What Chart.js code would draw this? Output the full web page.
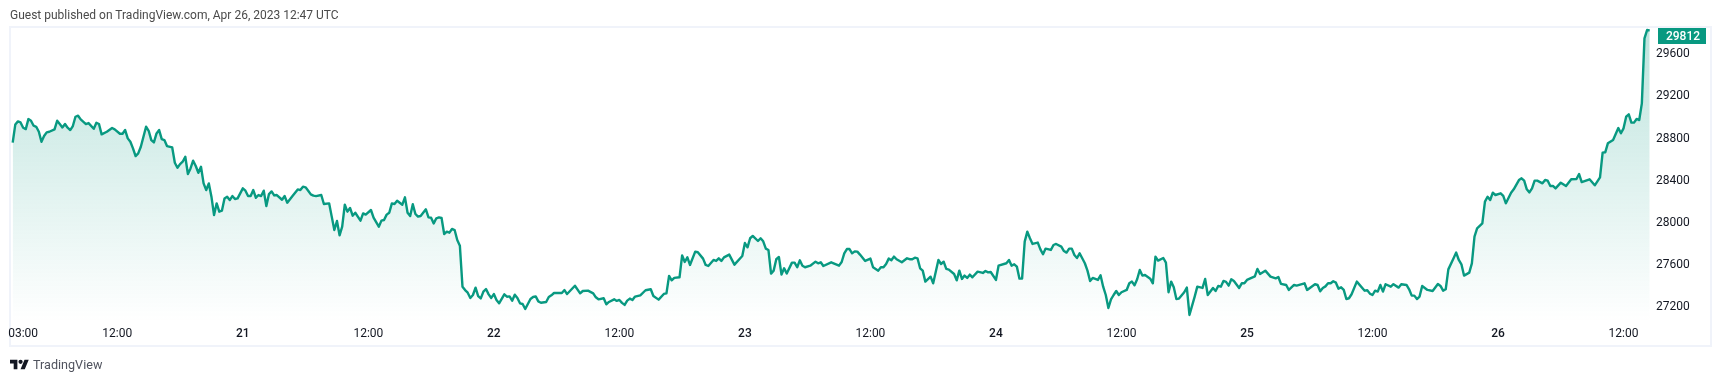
<!DOCTYPE html>
<html>
<head>
<meta charset="utf-8">
<script src="https://cdn.jsdelivr.net/npm/chart.js@4"></script>
<style>
    body { margin: 0; background: #fff; width: 1722px; height: 382px; overflow: hidden; position: relative; font-family: Roboto, sans-serif; }
    #frame { position: absolute; left: 9px; top: 26px; width: 1699px; height: 317px; border: 2px solid #f0f3fa; }
    #chart { position: absolute; left: 0; top: 0; }
    #published { position: absolute; left: 10px; top: 6px; font-size: 12px; line-height: 18px; color: #4a4a4a; white-space: nowrap; }
    #brand { position: absolute; left: 10px; top: 355px; height: 18px; display: flex; align-items: center; gap: 4px; font-size: 12.6px; color: #50535e; }
</style>
</head>
<body>
<div id="frame"></div>
<canvas id="chart" width="1722" height="382"></canvas>
<div id="published">Guest published on TradingView.com, Apr 26, 2023 12:47 UTC</div>
<div id="brand">
    <svg width="19" height="11" viewBox="0 3 36 20"><path fill="#131722" d="M14 22H7V11H0V4h14v18zM28 22h-8l7.5-18h8L28 22z"/><circle fill="#131722" cx="20" cy="8" r="4"/></svg>
    <span>TradingView</span>
</div>
<script>
// 15 minute slots counted from Apr 20 02:00, only the turning points of the line are listed
const slots = [
    0,1,2,3,4,5,6,7,8,9,10,11,12,13,14,16,17,18,19,20,21,22,23,24,25,26,28,29,31,32,33,34,36,38,39,41,42,43,44,45,46,47,48,49,51,52,53,54,55,56,57,58,59,61,62,63,64,65,66,67,68,69,70,71,72,73,74,75,76,77,78,79,80,81,82,83,84,85,86,88,89,90,91,92,93,94,95,96,97,98,99,100,101,103,104,105,107,109,
    110,111,112,113,114,115,116,118,119,121,122,123,124,125,126,127,128,129,130,131,133,134,135,137,138,140,141,142,143,144,145,146,147,149,150,151,152,153,154,155,156,158,159,160,161,162,163,164,165,166,167,168,169,170,171,172,173,174,175,176,177,178,179,180,181,182,183,184,185,186,188,189,190,191,192,193,194,195,196,198,199,200,201,202,204,205,206,207,210,211,212,215,217,
    218,220,222,223,224,226,227,228,230,231,232,233,234,235,236,237,238,240,242,244,245,247,249,250,251,252,253,255,256,257,258,259,261,262,264,265,266,268,269,270,271,272,274,276,279,280,281,282,283,285,286,287,288,289,290,291,292,293,294,295,296,298,299,300,301,302,303,305,307,308,309,310,313,316,317,318,319,320,321,322,323,
    324,326,328,329,331,332,333,334,335,336,337,338,340,342,343,344,345,346,347,348,349,351,352,354,355,356,357,358,360,361,362,363,364,365,366,367,369,371,372,373,374,376,377,380,381,382,383,384,385,386,387,388,389,390,392,393,394,395,397,398,399,401,402,403,404,405,406,407,408,409,410,411,412,413,415,416,417,418,419,420,421,422,423,424,426,427,428,429,430,431,
    432,433,435,436,437,438,440,441,442,443,444,445,446,448,449,450,452,453,455,456,457,459,460,461,462,463,464,465,466,467,469,470,471,472,475,476,477,479,481,483,484,485,487,488,490,491,494,495,498,499,500,501,502,503,504,505,506,507,508,509,510,511,512,514,517,518,519,520,521,522,523,524,525,527,528,530,531,533,534,535,536,537,538,
    539,541,543,545,546,547,548,549,551,552,553,554,555,557,558,559,560,562,563,564,565,566,567,569,570,571,573,574,576,577,578,579,580,581,582,583,585,586,587,588,589,590,592,594,596,598,599,600,603,605,607,608,609,610,612,614,615,616,617,618,619,620,621,622,623,624,625,626
];
const prices = [
    28747,28920,28949,28939,28889,28876,28971,28955,28908,28898,28851,28756,28810,28845,28851,28873,28955,28924,28892,28924,28889,28867,28905,28993,29003,28968,28924,28933,28879,28936,28924,28826,28851,28886,28873,28832,28832,28867,28788,28756,28693,28620,28646,28709,28898,28860,28772,28750,28835,28867,28781,28772,28715,28702,28557,28510,28544,28567,28614,28450,28503,28576,28526,28462,28519,28361,28298,28361,28235,28061,28172,28093,28102,28219,28235,28203,28241,28213,28219,28314,28292,28241,28241,28298,28225,28251,28241,28292,28146,28260,28285,28247,28251,28206,28241,28178,28241,28304,
    28298,28330,28324,28292,28257,28245,28241,28251,28166,28172,28046,27919,28005,27869,27951,28159,28093,28128,28055,28083,28008,28077,28065,28109,28036,27951,28008,28014,28065,28083,28172,28166,28197,28159,28229,28083,28052,28163,28071,28046,28052,28115,28039,28036,27982,28030,28039,28033,27881,27903,27894,27929,27919,27824,27771,27382,27350,27325,27275,27303,27372,27293,27271,27335,27360,27309,27275,27312,27256,27224,27309,27287,27290,27249,27306,27275,27224,27218,27170,27265,27284,27290,27243,27230,27237,27284,27300,27322,27322,27350,27312,27391,27319,
    27341,27344,27319,27281,27262,27272,27215,27237,27262,27247,27256,27228,27209,27250,27269,27256,27288,27300,27348,27357,27294,27259,27313,27319,27484,27442,27465,27471,27679,27616,27660,27588,27714,27708,27648,27588,27578,27635,27626,27651,27626,27660,27686,27591,27673,27796,27755,27841,27863,27815,27841,27812,27743,27730,27506,27534,27642,27664,27496,27556,27506,27610,27610,27566,27632,27581,27566,27581,27619,27604,27613,27578,27613,27581,27616,27698,27739,27739,27698,27717,27714,
    27686,27626,27648,27566,27534,27566,27566,27597,27648,27632,27667,27642,27613,27651,27642,27642,27657,27651,27556,27534,27430,27477,27414,27635,27597,27619,27550,27544,27502,27442,27534,27455,27487,27465,27496,27471,27525,27512,27531,27518,27521,27446,27581,27604,27635,27581,27594,27572,27458,27458,27809,27904,27841,27787,27800,27736,27689,27743,27730,27777,27787,27762,27720,27705,27743,27743,27683,27654,27698,27651,27604,27534,27436,27465,27446,27490,27382,27303,27180,27262,27303,27341,27303,27329,27351,27414,27430,27395,27452,27540,
    27487,27493,27458,27414,27667,27629,27654,27610,27329,27430,27376,27265,27269,27329,27373,27114,27288,27382,27370,27455,27303,27370,27341,27389,27382,27436,27427,27392,27452,27436,27370,27414,27414,27446,27480,27550,27502,27534,27477,27461,27474,27408,27398,27351,27398,27392,27414,27351,27405,27398,27338,27370,27385,27414,27414,27433,27420,27363,27376,27351,27265,27272,27310,27430,27344,27348,27316,27303,27344,27335,27398,27335,27405,27382,27405,27373,27405,27398,27357,27297,27297,27265,27288,
    27389,27351,27341,27408,27389,27344,27357,27546,27651,27705,27635,27594,27487,27515,27603,27856,27935,27983,28188,28235,28204,28273,28251,28267,28242,28172,28273,28305,28393,28409,28387,28305,28276,28314,28387,28387,28362,28393,28387,28337,28337,28314,28368,28337,28400,28403,28450,28374,28400,28343,28419,28653,28656,28741,28773,28886,28836,28883,28994,29016,28937,28937,28972,28962,29120,29736,29815,29812
];
const lastPrice = 29812;
const timeTickSlots = [4, 40, 88, 136, 184, 232, 280, 328, 376, 424, 472, 520, 568, 616];
const timeTickLabels = ['03:00', '12:00', '21', '12:00', '22', '12:00', '23', '12:00', '24', '12:00', '25', '12:00', '26', '12:00'];
const priceTicks = [27200, 27600, 28000, 28400, 28800, 29200, 29600];

const lineColor = '#089981';
const fontFamily = 'Roboto, sans-serif';

// Price tag on the axis, it sticks to the top of the pane like in the original
const lastPriceTag = {
    id: 'lastPriceTag',
    afterDraw(chart) {
        const c = chart.ctx;
        const area = chart.chartArea;
        const top = Math.max(chart.scales.y.getPixelForValue(lastPrice) - 8, area.top + 1);
        c.save();
        c.fillStyle = lineColor;
        c.fillRect(area.right + 2, top, 48, 16);
        c.fillStyle = '#fff';
        c.font = '500 12px ' + fontFamily;
        c.textAlign = 'center';
        c.textBaseline = 'middle';
        c.fillText(String(lastPrice), area.right + 27, top + 8.5);
        c.restore();
    }
};

function areaGradient(context) {
    const area = context.chart.chartArea;
    if (!area) return 'transparent';
    const g = context.chart.ctx.createLinearGradient(0, area.top, 0, area.bottom);
    g.addColorStop(0, 'rgba(8, 153, 129, 0.27)');
    g.addColorStop(1, 'rgba(8, 153, 129, 0)');
    return g;
}

new Chart(document.getElementById('chart').getContext('2d'), {
    type: 'line',
    data: {
        datasets: [{
            data: slots.map((s, i) => ({ x: s, y: prices[i] })),
            borderColor: lineColor,
            borderWidth: 2.4,
            borderJoinStyle: 'round',
            backgroundColor: areaGradient,
            fill: 'start',
            tension: 0,
            pointRadius: 0
        }]
    },
    options: {
        responsive: false,
        animation: false,
        layout: { padding: { left: 11, top: 27, right: 10, bottom: 35 } },
        plugins: { legend: { display: false }, tooltip: { enabled: false } },
        scales: {
            x: {
                type: 'linear',
                min: -0.65,
                max: 628.41,
                grid: { display: false, drawTicks: false },
                border: { display: false },
                afterBuildTicks: scale => { scale.ticks = timeTickSlots.map(v => ({ value: v })); },
                afterFit: scale => { scale.height = 25; },
                ticks: {
                    autoSkip: false,
                    maxRotation: 0,
                    padding: 5,
                    color: '#131722',
                    font: ctx => ({
                        family: fontFamily,
                        size: 12,
                        weight: timeTickLabels[ctx.index] === '12:00' || timeTickLabels[ctx.index] === '03:00' ? 'normal' : '500'
                    }),
                    callback: (value, index) => timeTickLabels[index]
                }
            },
            y: {
                position: 'right',
                min: 27047,
                max: 29844,
                grid: { display: false, drawTicks: false },
                border: { display: false },
                afterBuildTicks: scale => { scale.ticks = priceTicks.map(v => ({ value: v })); },
                afterFit: scale => { scale.width = 56; },
                ticks: {
                    autoSkip: false,
                    crossAlign: 'center',
                    padding: 0,
                    color: '#131722',
                    // blank first line nudges the text down to sit where the original has it
                    font: { family: fontFamily, size: 12, lineHeight: '3px' },
                    callback: value => ['', String(value)]
                }
            }
        }
    },
    plugins: [lastPriceTag]
});
</script>
</body>
</html>
